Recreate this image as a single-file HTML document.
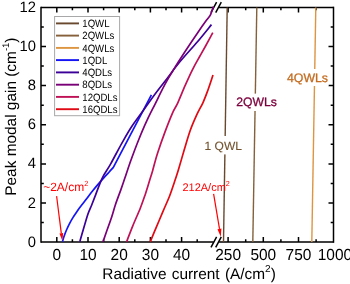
<!DOCTYPE html>
<html><head><meta charset="utf-8"><title>chart</title>
<style>
html,body{margin:0;padding:0;background:#fff;}
body{width:350px;height:284px;overflow:hidden;}
svg{display:block;will-change:transform;}
text{font-family:"Liberation Sans",sans-serif;text-rendering:geometricPrecision;}
</style></head><body>
<svg width="350" height="284" viewBox="0 0 350 284">
<rect x="0" y="0" width="350" height="284" fill="#fff"/>

<g stroke="#000" stroke-width="1.5" fill="none" stroke-linecap="butt">
<path d="M41.0,6.7 V242.8"/>
<path d="M333.5,6.7 V242.8"/>
<path d="M41.0,7.4 H213.6 M219.1,7.4 H333.5"/>
<path d="M211.0,12.6 L216.6,2.2"/>
<path d="M215.7,12.6 L221.3,2.2"/>
<path d="M41.0,242.1 H213.6 M219.1,242.1 H333.5"/>
<path d="M211.0,247.3 L216.6,236.9"/>
<path d="M215.7,247.3 L221.3,236.9"/>
<path d="M56.8,242.1 v-5.0 M56.8,7.4 v5.0"/>
<path d="M72.4,242.1 v-2.8 M72.4,7.4 v2.8"/>
<path d="M88.0,242.1 v-5.0 M88.0,7.4 v5.0"/>
<path d="M103.6,242.1 v-2.8 M103.6,7.4 v2.8"/>
<path d="M119.2,242.1 v-5.0 M119.2,7.4 v5.0"/>
<path d="M134.8,242.1 v-2.8 M134.8,7.4 v2.8"/>
<path d="M150.4,242.1 v-5.0 M150.4,7.4 v5.0"/>
<path d="M166.0,242.1 v-2.8 M166.0,7.4 v2.8"/>
<path d="M181.6,242.1 v-5.0 M181.6,7.4 v5.0"/>
<path d="M197.2,242.1 v-2.8 M197.2,7.4 v2.8"/>
<path d="M228.1,242.1 v-5.0 M228.1,7.4 v5.0"/>
<path d="M245.7,242.1 v-2.8 M245.7,7.4 v2.8"/>
<path d="M263.3,242.1 v-5.0 M263.3,7.4 v5.0"/>
<path d="M280.9,242.1 v-2.8 M280.9,7.4 v2.8"/>
<path d="M298.5,242.1 v-5.0 M298.5,7.4 v5.0"/>
<path d="M316.1,242.1 v-2.8 M316.1,7.4 v2.8"/>
<path d="M41.0,222.5 h2.8 M333.5,222.5 h-2.8"/>
<path d="M41.0,203.0 h5.0 M333.5,203.0 h-5.0"/>
<path d="M41.0,183.4 h2.8 M333.5,183.4 h-2.8"/>
<path d="M41.0,163.9 h5.0 M333.5,163.9 h-5.0"/>
<path d="M41.0,144.3 h2.8 M333.5,144.3 h-2.8"/>
<path d="M41.0,124.8 h5.0 M333.5,124.8 h-5.0"/>
<path d="M41.0,105.2 h2.8 M333.5,105.2 h-2.8"/>
<path d="M41.0,85.6 h5.0 M333.5,85.6 h-5.0"/>
<path d="M41.0,66.1 h2.8 M333.5,66.1 h-2.8"/>
<path d="M41.0,46.5 h5.0 M333.5,46.5 h-5.0"/>
<path d="M41.0,27.0 h2.8 M333.5,27.0 h-2.8"/>
</g>
<g fill="none" stroke-width="1.7" stroke-linejoin="round" stroke-linecap="butt">
<path d="M223.5,242.0 L227.2,7.4" stroke="#69482e" stroke-width="1.4"/>
<path d="M252.8,242.0 L256.8,7.4" stroke="#85603a" stroke-width="1.4"/>
<path d="M311.8,242.0 L315.8,7.4" stroke="#dd9542" stroke-width="1.4"/>
<path d="M62.4,241.8 C62.7,240.9 63.4,238.2 64.1,236.2 C64.8,234.2 65.6,232.1 66.5,230.0 C67.4,227.9 68.3,225.9 69.4,223.8 C70.5,221.7 71.6,219.7 72.9,217.6 C74.2,215.5 75.5,213.7 77.0,211.5 C78.5,209.3 80.3,206.9 82.1,204.6 C83.9,202.2 85.9,199.7 87.6,197.4 C89.3,195.1 90.8,193.1 92.5,191.0 C94.2,188.9 95.9,186.8 97.8,184.6 C99.7,182.4 102.1,179.7 104.0,177.6 C105.9,175.5 107.5,173.9 109.0,172.2 C110.5,170.5 112.5,168.4 113.2,167.6 L151.4,94.8" stroke="#1414f5"/>
<path d="M79.8,241.8 C80.2,240.2 81.2,236.8 82.5,232.3 C83.8,227.8 86.2,219.3 87.7,214.7 C89.2,210.1 90.5,208.0 91.8,204.7 C93.1,201.3 94.4,197.9 95.7,194.6 C97.0,191.2 98.2,187.8 99.5,184.6 C100.8,181.4 101.6,179.1 103.5,175.6 C105.4,172.1 107.8,169.0 110.7,163.8 C113.7,158.6 117.8,150.4 121.2,144.3 C124.7,138.2 128.0,132.2 131.4,127.0 C134.8,121.8 137.7,118.3 141.6,112.8 C145.5,107.3 150.8,99.8 155.1,94.0 C159.4,88.2 163.5,83.2 167.7,77.7 C171.9,72.2 175.3,67.3 180.3,61.3 C185.3,55.3 192.5,47.6 197.7,41.5 C202.9,35.4 209.2,27.4 211.5,24.6" stroke="#3b0098"/>
<path d="M103.0,241.8 C103.5,240.2 104.9,236.4 106.3,232.3 C107.7,228.2 110.1,221.9 111.6,217.3 C113.1,212.7 113.9,209.3 115.4,204.7 C117.0,200.1 119.3,194.0 120.9,189.6 C122.5,185.2 123.1,183.2 124.8,178.3 C126.5,173.4 128.6,166.7 130.9,160.3 C133.2,154.0 135.8,146.8 138.5,140.2 C141.2,133.5 144.1,126.6 147.0,120.4 C149.9,114.2 152.7,108.9 155.7,102.8 C158.7,96.7 162.1,89.6 165.2,83.9 C168.2,78.2 170.7,74.3 174.0,68.9 C177.3,63.5 181.2,57.5 185.1,51.5 C189.0,45.5 194.1,37.9 197.7,32.7 C201.2,27.5 204.3,23.2 206.4,20.3 C208.5,17.4 209.3,17.0 210.2,15.4 C211.1,13.8 211.4,12.1 212.0,10.6 C212.6,9.1 213.2,7.3 213.5,6.6" stroke="#7a0078"/>
<path d="M126.6,241.8 C127.6,239.2 130.3,231.8 132.6,226.3 C134.8,220.8 138.0,213.9 140.1,208.7 C142.2,203.5 143.4,199.9 145.1,194.9 C146.8,189.9 148.9,182.6 150.2,178.5 C151.5,174.4 151.4,174.7 152.7,170.4 C153.9,166.1 155.6,159.3 157.7,152.8 C159.8,146.3 162.7,138.1 165.2,131.4 C167.7,124.7 170.6,117.4 172.7,112.6 C174.8,107.8 175.7,107.4 177.8,102.8 C179.9,98.2 182.8,90.8 185.3,85.2 C187.8,79.6 190.6,73.5 192.9,68.9 C195.2,64.3 197.0,61.2 199.1,57.5 C201.2,53.8 203.0,50.6 205.3,46.5 C207.6,42.4 211.6,35.0 212.8,32.7" stroke="#bf1156"/>
<path d="M150.2,241.8 C151.1,239.7 153.3,234.3 155.4,229.3 C157.5,224.3 160.6,217.1 162.9,211.6 C165.2,206.1 167.5,201.4 169.4,196.5 C171.3,191.6 172.9,186.5 174.4,182.2 C175.9,177.9 176.6,175.9 178.2,170.6 C179.8,165.3 182.1,157.0 184.1,150.3 C186.1,143.6 188.2,136.1 190.3,130.2 C192.4,124.3 194.5,119.7 196.6,115.1 C198.7,110.5 201.0,106.9 202.9,102.8 C204.8,98.7 206.2,94.8 207.9,90.2 C209.6,85.6 212.2,77.6 213.0,75.1" stroke="#e00a14"/>
</g>
<rect x="203" y="136" width="40" height="18.4" fill="#fff"/>
<rect x="234" y="93.6" width="45" height="17.4" fill="#fff"/>
<rect x="286" y="69" width="42.4" height="17" fill="#fff"/>
<text x="204.6" y="150.2" font-size="12" fill="#73532f" stroke="#73532f" stroke-width="0.12">1 QWL</text>
<text x="236.2" y="106.2" font-size="12.2" fill="#7c003c" stroke="#7c003c" stroke-width="0.3">2QWLs</text>
<text x="287" y="82" font-size="12.3" fill="#c46c20" stroke="#c46c20" stroke-width="0.3">4QWLs</text>
<g font-size="16" fill="#000">
<text transform="translate(36.0,246.6) scale(0.985,1)" font-size="15" text-anchor="end">0</text>
<text transform="translate(36.0,207.5) scale(0.985,1)" font-size="15" text-anchor="end">2</text>
<text transform="translate(36.0,168.4) scale(0.985,1)" font-size="15" text-anchor="end">4</text>
<text transform="translate(36.0,129.2) scale(0.985,1)" font-size="15" text-anchor="end">6</text>
<text transform="translate(36.0,90.1) scale(0.985,1)" font-size="15" text-anchor="end">8</text>
<text transform="translate(36.0,51.0) scale(0.985,1)" font-size="15" text-anchor="end">10</text>
<text transform="translate(36.0,11.9) scale(0.985,1)" font-size="15" text-anchor="end">12</text>
<text transform="translate(56.8,259.8) scale(0.965,1)" text-anchor="middle">0</text>
<text transform="translate(88.0,259.8) scale(0.965,1)" text-anchor="middle">10</text>
<text transform="translate(119.2,259.8) scale(0.965,1)" text-anchor="middle">20</text>
<text transform="translate(150.4,259.8) scale(0.965,1)" text-anchor="middle">30</text>
<text transform="translate(181.6,259.8) scale(0.965,1)" text-anchor="middle">40</text>
<text transform="translate(228.1,259.8) scale(0.965,1)" text-anchor="middle">250</text>
<text transform="translate(263.3,259.8) scale(0.965,1)" text-anchor="middle">500</text>
<text transform="translate(298.5,259.8) scale(0.965,1)" text-anchor="middle">750</text>
<text transform="translate(334.9,259.8) scale(0.965,1)" text-anchor="middle">1000</text>
</g>
<text x="102.3" y="279.3" font-size="15.4" word-spacing="1" fill="#000">Radiative current (A/cm<tspan font-size="10" dy="-7">2</tspan><tspan dy="7">)</tspan></text>
<text transform="translate(16.0,195.7) rotate(-90)" font-size="15.4" fill="#000">Peak modal gain (cm<tspan font-size="9.5" dy="-7.2">-1</tspan><tspan dy="7.2">)</tspan></text>
<rect x="54.6" y="16.5" width="65" height="99.2" fill="#fff" stroke="#a8a8a8" stroke-width="1"/>
<path d="M56,23.4 H79" stroke="#69482e" stroke-width="1.9" fill="none"/>
<text transform="translate(82.3,27.1) scale(0.905,1)" font-size="10.6" fill="#000">1QWL</text>
<path d="M56,35.6 H79" stroke="#85603a" stroke-width="1.9" fill="none"/>
<text transform="translate(82.3,39.4) scale(0.905,1)" font-size="10.6" fill="#000">2QWLs</text>
<path d="M56,47.9 H79" stroke="#dd9542" stroke-width="1.9" fill="none"/>
<text transform="translate(82.3,51.6) scale(0.905,1)" font-size="10.6" fill="#000">4QWLs</text>
<path d="M56,60.1 H79" stroke="#1414f5" stroke-width="1.9" fill="none"/>
<text transform="translate(82.3,63.9) scale(0.905,1)" font-size="10.6" fill="#000">1QDL</text>
<path d="M56,72.4 H79" stroke="#3b0098" stroke-width="1.9" fill="none"/>
<text transform="translate(82.3,76.1) scale(0.905,1)" font-size="10.6" fill="#000">4QDLs</text>
<path d="M56,84.7 H79" stroke="#7a0078" stroke-width="1.9" fill="none"/>
<text transform="translate(82.3,88.4) scale(0.905,1)" font-size="10.6" fill="#000">8QDLs</text>
<path d="M56,96.9 H79" stroke="#bf1156" stroke-width="1.9" fill="none"/>
<text transform="translate(82.3,100.6) scale(0.905,1)" font-size="10.6" fill="#000">12QDLs</text>
<path d="M56,109.2 H79" stroke="#e00a14" stroke-width="1.9" fill="none"/>
<text transform="translate(82.3,112.9) scale(0.905,1)" font-size="10.6" fill="#000">16QDLs</text>
<g fill="#ff0000" stroke="none">
<text x="43.2" y="191.2" font-size="12">~2A/cm<tspan font-size="7.5" dy="-5.3">2</tspan></text>
<text x="182.4" y="191" font-size="11">212A/cm<tspan font-size="7.2" dy="-5.2">2</tspan></text>
</g>
<path d="M56.6,196.2 L61.3,233.4" stroke="#ff0000" stroke-width="1.2" fill="none"/><path d="M62.3,240.8 L59.5,233.6 L63.2,233.1 Z" fill="#ff0000"/>
<path d="M213.6,193.9 L219.5,228.9" stroke="#ff0000" stroke-width="1.2" fill="none"/><path d="M220.8,236.8 L217.5,229.2 L221.4,228.6 Z" fill="#ff0000"/>
</svg></body></html>
